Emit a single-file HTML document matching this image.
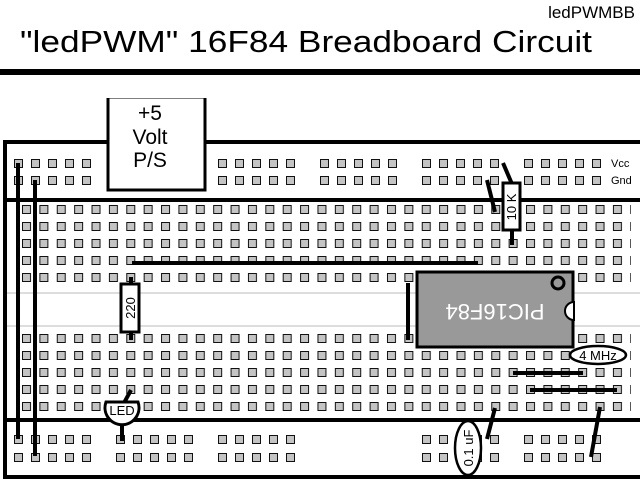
<!DOCTYPE html>
<html><head><meta charset="utf-8"><style>
html,body{margin:0;padding:0;background:#fff;}
svg{display:block;font-family:"Liberation Sans",Arial,sans-serif;}
</style></head><body>
<svg width="640" height="480" viewBox="0 0 640 480" xmlns="http://www.w3.org/2000/svg">
<defs>
<pattern id="mh" patternUnits="userSpaceOnUse" x="22" y="205" width="17.38" height="17">
<rect x="0.5" y="0.5" width="8" height="8" fill="#c4c4c4" stroke="#111" stroke-width="1"/>
</pattern>
<pattern id="mh2" patternUnits="userSpaceOnUse" x="22" y="334" width="17.38" height="17">
<rect x="0.5" y="0.5" width="8" height="8" fill="#c4c4c4" stroke="#111" stroke-width="1"/>
</pattern>
<pattern id="rt" patternUnits="userSpaceOnUse" x="14" y="159" width="17" height="17">
<rect x="0.5" y="0.5" width="8" height="8" fill="#c4c4c4" stroke="#111" stroke-width="1"/>
</pattern>
<pattern id="rb" patternUnits="userSpaceOnUse" x="14" y="435" width="17" height="18">
<rect x="0.5" y="0.5" width="8" height="8" fill="#c4c4c4" stroke="#111" stroke-width="1"/>
</pattern>
</defs>
<rect width="640" height="480" fill="#fff"/>
<text x="635" y="18" font-size="17" text-anchor="end">ledPWMBB</text>
<text x="20" y="52" font-size="31" textLength="572" lengthAdjust="spacingAndGlyphs">"ledPWM" 16F84 Breadboard Circuit</text>
<rect x="0" y="69" width="640" height="6" fill="#000"/>

<g stroke="#000" stroke-width="4" fill="none">
<polyline points="108,142 5,142 5,477 640,477"/>
<line x1="205" y1="142" x2="640" y2="142"/>
<line x1="5" y1="200" x2="640" y2="200"/>
<line x1="5" y1="420" x2="640" y2="420"/>
</g>
<line x1="7" y1="293" x2="640" y2="293" stroke="#bbb" stroke-width="1"/>
<line x1="7" y1="326" x2="640" y2="326" stroke="#bbb" stroke-width="1"/>

<rect x="108" y="97" width="97" height="93" fill="#fff" stroke="#000" stroke-width="3"/>
<rect x="106" y="92" width="101" height="6" fill="#fff"/>
<text x="150" y="120" font-size="21" text-anchor="middle">+5</text>
<text x="150" y="144" font-size="21" text-anchor="middle">Volt</text>
<text x="150" y="167" font-size="21" text-anchor="middle">P/S</text>

<rect x="22" y="205" width="609" height="80" fill="url(#mh)"/>
<rect x="22" y="334" width="609" height="80" fill="url(#mh2)"/>
<g fill="url(#rt)">
<rect x="14" y="159" width="85" height="26"/>
<rect x="218" y="159" width="85" height="26"/>
<rect x="320" y="159" width="85" height="26"/>
<rect x="422" y="159" width="85" height="26"/>
<rect x="524" y="159" width="85" height="26"/>
</g>
<g fill="url(#rb)">
<rect x="14" y="435" width="85" height="27"/>
<rect x="116" y="435" width="85" height="27"/>
<rect x="218" y="435" width="85" height="27"/>
<rect x="422" y="435" width="85" height="27"/>
<rect x="524" y="435" width="85" height="27"/>
</g>
<text x="611" y="167" font-size="11">Vcc</text>
<text x="611" y="184" font-size="11">Gnd</text>

<g stroke="#000" stroke-width="4" fill="none">
<line x1="18" y1="163" x2="18" y2="439"/>
<line x1="35" y1="180" x2="35" y2="456"/>
<line x1="132" y1="263" x2="478" y2="263"/>
<line x1="408" y1="283" x2="408" y2="340"/>
<line x1="131" y1="277" x2="131" y2="340"/>
<line x1="503" y1="163" x2="512" y2="184"/>
<line x1="487" y1="180" x2="495" y2="212"/>
<line x1="512" y1="230" x2="512" y2="245"/>
<line x1="513" y1="373" x2="583" y2="373"/>
<line x1="530" y1="390" x2="617" y2="390"/>
<line x1="495" y1="408" x2="487" y2="439"/>
<line x1="600" y1="407" x2="591" y2="457"/>
<line x1="131" y1="390" x2="124" y2="403"/>
<line x1="122" y1="426" x2="122" y2="441"/>
</g>

<rect x="121" y="284" width="18" height="48" fill="#fff" stroke="#000" stroke-width="3"/>
<text transform="translate(135,308) rotate(-90)" font-size="13" text-anchor="middle">220</text>

<rect x="503" y="183" width="17" height="47" fill="#fff" stroke="#000" stroke-width="3"/>
<text transform="translate(516,207) rotate(-90)" font-size="13" text-anchor="middle">10 K</text>

<path d="M106,402 L138,402 A17,17 0 1 1 106,402 Z" fill="#fff" stroke="#000" stroke-width="3"/>
<text x="122" y="415" font-size="13" text-anchor="middle">LED</text>

<rect x="417" y="272" width="156" height="75" fill="#999" stroke="#000" stroke-width="3"/>
<circle cx="558" cy="283" r="6" fill="none" stroke="#000" stroke-width="3"/>
<path d="M574,302 A9,9 0 0 0 574,320 Z" fill="#fff" stroke="#000" stroke-width="2"/>
<text transform="translate(495,304) rotate(180)" font-size="22" fill="#fff" text-anchor="middle">PIC16F84</text>

<ellipse cx="598" cy="355" rx="28" ry="9" fill="#fff" stroke="#000" stroke-width="2.5"/>
<text x="598" y="360" font-size="13" text-anchor="middle">4 MHz</text>

<ellipse cx="468" cy="448" rx="13" ry="27" fill="#fff" stroke="#000" stroke-width="2.5"/>
<text transform="translate(473,448) rotate(-90)" font-size="13" text-anchor="middle">0.1 uF</text>
</svg>
</body></html>
